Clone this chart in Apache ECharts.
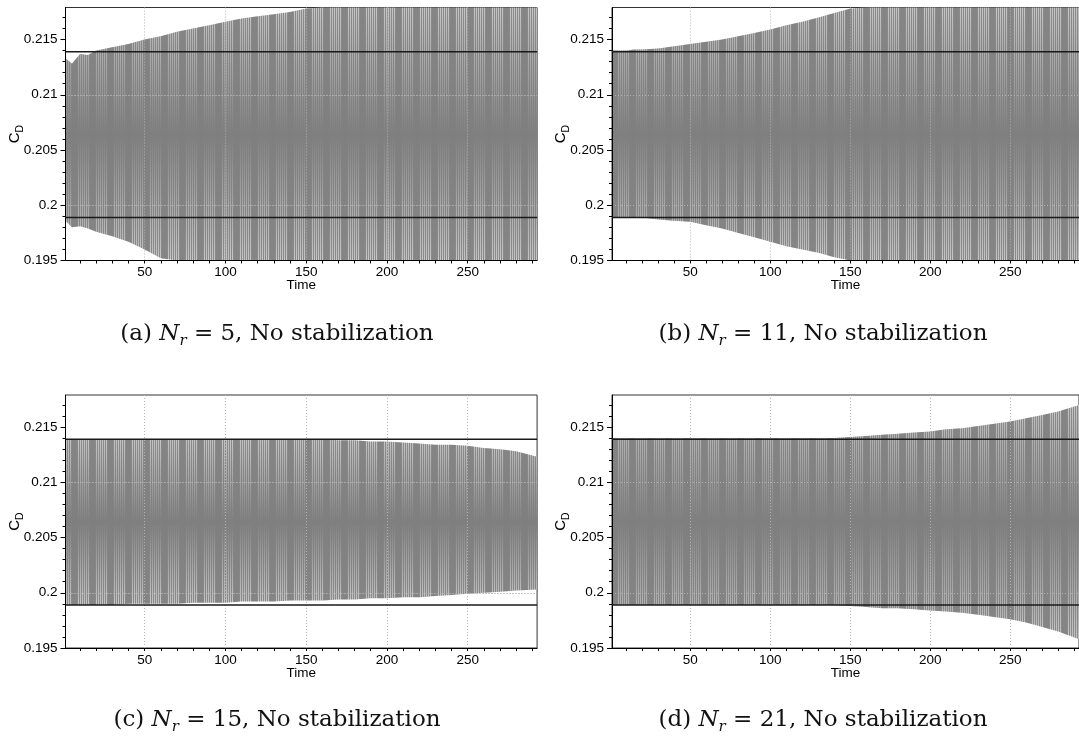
<!DOCTYPE html>
<html><head><meta charset="utf-8">
<script src="https://cdn.jsdelivr.net/npm/echarts@6/dist/echarts.min.js"></script>
<style>html,body{margin:0;padding:0;background:#fff;}#c{width:1079px;height:739px;}</style>
</head><body><div id="c"></div>
<script>
// ---------------- data ----------------
const times  = [1,5,10,15,20,30,40,50,60,70,80,90,100,110,120,130,140,150,160,170,180,190,200,210,220,230,240,250,260,270,280,293];
// envelopes of the oscillating C_D signal (values beyond the axis range are clipped)
const upperA = [0.2133,0.2128,0.2137,0.2136,0.2140,0.2143,0.2146,0.2150,0.2153,0.2157,0.2160,0.2163,0.2166,0.2169,0.2171,0.2173,0.2175,0.2178,0.2181,0.2183,0.2185,0.2187,0.2189,0.2191,0.2193,0.2195,0.2197,0.2199,0.2201,0.2203,0.2205,0.2207];
const lowerA = [0.1986,0.1980,0.1981,0.1979,0.1976,0.1972,0.1967,0.1960,0.1952,0.1946,0.1941,0.1937,0.1933,0.1929,0.1926,0.1923,0.1920,0.1917,0.1915,0.1913,0.1911,0.1909,0.1907,0.1905,0.1903,0.1901,0.1899,0.1897,0.1895,0.1893,0.1891,0.1889];
const upperB = [0.2140,0.2140,0.2140,0.2141,0.2141,0.2142,0.2144,0.2146,0.2148,0.2150,0.2153,0.2156,0.2159,0.2163,0.2166,0.2170,0.2174,0.2178,0.2182,0.2186,0.2190,0.2194,0.2198,0.2202,0.2206,0.2210,0.2214,0.2218,0.2222,0.2226,0.2230,0.2234];
const lowerB = [0.1989,0.1989,0.1989,0.1989,0.1989,0.1987,0.1986,0.1985,0.1982,0.1979,0.1975,0.1971,0.1967,0.1963,0.1960,0.1957,0.1953,0.1949,0.1945,0.1941,0.1937,0.1933,0.1929,0.1925,0.1921,0.1917,0.1913,0.1909,0.1905,0.1901,0.1897,0.1893];
const upperC = [0.2139,0.2139,0.2139,0.2139,0.2139,0.2139,0.2139,0.2139,0.2139,0.2139,0.2139,0.2139,0.2139,0.2139,0.2139,0.2139,0.2139,0.2139,0.2139,0.2138,0.2138,0.2137,0.2137,0.2136,0.2135,0.2134,0.2134,0.2133,0.2131,0.2130,0.2128,0.2123];
const lowerC = [0.1989,0.1989,0.1989,0.1989,0.1989,0.1989,0.1990,0.1990,0.1990,0.1990,0.1991,0.1991,0.1991,0.1992,0.1992,0.1992,0.1993,0.1993,0.1993,0.1994,0.1994,0.1995,0.1995,0.1996,0.1996,0.1997,0.1998,0.1999,0.2000,0.2001,0.2002,0.2003];
const upperD = [0.2140,0.2140,0.2140,0.2140,0.2140,0.2140,0.2140,0.2140,0.2140,0.2140,0.2140,0.2140,0.2140,0.2140,0.2140,0.2140,0.2140,0.2141,0.2142,0.2143,0.2144,0.2145,0.2146,0.2148,0.2149,0.2151,0.2153,0.2155,0.2158,0.2161,0.2164,0.2170];
const lowerD = [0.1989,0.1989,0.1989,0.1989,0.1989,0.1989,0.1989,0.1989,0.1989,0.1989,0.1989,0.1989,0.1989,0.1989,0.1989,0.1989,0.1989,0.1988,0.1987,0.1986,0.1986,0.1985,0.1984,0.1983,0.1982,0.1980,0.1978,0.1976,0.1973,0.1969,0.1965,0.1958];
const refLines = [0.2139, 0.1989];
const xTickValues  = [10,20,30,40,50,60,70,80,90,100,110,120,130,140,150,160,170,180,190,200,210,220,230,240,250,260,270,280,290];
const xLabelValues = [50,100,150,200,250];
const yLabelValues = [0.195,0.2,0.205,0.21,0.215];
const yMinorValues = [0.196,0.197,0.198,0.199,0.201,0.202,0.203,0.204,0.206,0.207,0.208,0.209,0.211,0.212,0.213,0.214,0.216,0.217];
const gridXValues = [50,100,150,200,250];
const gridYValues = [0.2,0.205,0.21,0.215];
const captions = [
  '{n|(a) }{i|N}{s|r}{n| = 5, No stabilization}',
  '{n|(b) }{i|N}{s|r}{n| = 11, No stabilization}',
  '{n|(c) }{i|N}{s|r}{n| = 15, No stabilization}',
  '{n|(d) }{i|N}{s|r}{n| = 21, No stabilization}'
];
const X_MIN = 1, X_MAX = 293, Y_MIN = 0.195, Y_MAX = 0.2179;

// ---------------- styling / layout ----------------
const sans = 'Liberation Sans';
const panels = [
  {left: 65.5, top: 7.5, up: upperA, lo: lowerA, capX: 277, capY: 334},
  {left: 612,  top: 7.5, up: upperB, lo: lowerB, capX: 823, capY: 334},
  {left: 65.5, top: 395, up: upperC, lo: lowerC, capX: 277, capY: 720},
  {left: 612,  top: 395, up: upperD, lo: lowerD, capX: 823, capY: 720}
];

// striped texture imitating the dense vertical oscillation strokes
const pc = document.createElement('canvas');
pc.width = 18; pc.height = 4;
const pctx = pc.getContext('2d');
for (let i = 0; i < 18; i++) {
  let col;
  if (i < 5) col = '#858585';
  else col = (i % 2 === 0) ? '#c6c6c6' : '#8a8a8a';
  pctx.fillStyle = col; pctx.fillRect(i, 0, 1, 4);
}
const stripe = {image: pc, repeat: 'repeat'};

const chart = echarts.init(document.getElementById('c'), null, {renderer: 'canvas'});
const grid = [], xAxis = [], yAxis = [], series = [], graphic = [];

panels.forEach((p, k) => {
  grid.push({left: p.left, top: p.top, width: 471.6, height: 253, show: true,
    borderColor: '#333', borderWidth: 1, backgroundColor: 'transparent'});
  xAxis.push({gridIndex: k, type: 'value', min: X_MIN, max: X_MAX, z: 6, position: 'bottom',
    axisLine: {show: true, onZero: false, lineStyle: {color: '#000', width: 1}},
    axisTick: {show: true, inside: false, length: 3, customValues: xTickValues, lineStyle: {color: '#000'}},
    axisLabel: {customValues: xLabelValues, margin: 5, fontSize: 13.5, color: '#000', fontFamily: sans},
    splitLine: {show: false},
    name: 'Time', nameLocation: 'middle', nameGap: 18, nameMoveOverlap: false,
    nameTextStyle: {fontSize: 13.5, color: '#000', fontFamily: sans}
  });
  yAxis.push({gridIndex: k, type: 'value', min: Y_MIN, max: Y_MAX, z: 6, position: 'left',
    axisLine: {show: true, onZero: false, lineStyle: {color: '#000', width: 1}},
    axisTick: {show: true, inside: false, length: 5, customValues: yLabelValues, lineStyle: {color: '#000'}},
    axisLabel: {customValues: yLabelValues, margin: 8, fontSize: 13.5, color: '#000', fontFamily: sans},
    splitLine: {show: false},
    name: '{c|C}{d|D}', nameLocation: 'middle', nameRotate: 90, nameGap: 40, nameMoveOverlap: false,
    nameTextStyle: {color: '#000', fontFamily: sans, rich: {
      c: {fontSize: 15, lineHeight: 22, verticalAlign: 'middle', fontFamily: sans, color: '#000'},
      d: {fontSize: 10.5, lineHeight: 10, verticalAlign: 'bottom', fontFamily: sans, color: '#000'}
    }}
  });
  yAxis.push({gridIndex: k, type: 'value', min: Y_MIN, max: Y_MAX, z: 6, position: 'left', offset: 0,
    axisLine: {show: false, onZero: false},
    axisTick: {show: true, inside: false, length: 3, customValues: yMinorValues, lineStyle: {color: '#000'}},
    axisLabel: {show: false}, splitLine: {show: false}
  });
  const up = p.up, lo = p.lo;
  series.push({
    type: 'custom', xAxisIndex: k, yAxisIndex: 2 * k, z: 2, silent: true,
    data: [[X_MIN, Y_MIN]],
    renderItem: function (params, api) {
      const pts = [];
      for (let i = 0; i < times.length; i++) pts.push(api.coord([times[i], Math.min(up[i], Y_MAX)]));
      for (let i = times.length - 1; i >= 0; i--) pts.push(api.coord([times[i], Math.max(lo[i], Y_MIN)]));
      return {type: 'group', children: [
        {type: 'polygon', shape: {points: pts}, style: {fill: stripe}},
        {type: 'polygon', shape: {points: pts}, style: {fill: new echarts.graphic.LinearGradient(0, 0, 0, 1, [
          {offset: 0, color: 'rgba(128,128,128,0)'},
          {offset: 0.22, color: 'rgba(128,128,128,0.45)'},
          {offset: 0.5, color: 'rgba(127,127,127,1)'},
          {offset: 0.78, color: 'rgba(128,128,128,0.45)'},
          {offset: 1, color: 'rgba(128,128,128,0)'}
        ])}}
      ]};
    },
    markLine: {
      silent: true, symbol: 'none', z: 4, animation: false,
      label: {show: false},
      lineStyle: {color: '#b4b4b4', width: 1, type: [1, 2]},
      data: gridXValues.map(v => ({xAxis: v})).concat(gridYValues.map(v => ({yAxis: v})))
    }
  });
  refLines.forEach(v => {
    series.push({type: 'line', xAxisIndex: k, yAxisIndex: 2 * k, z: 7, silent: true,
      symbol: 'none', animation: false,
      lineStyle: {color: '#1a1a1a', width: 1.5},
      data: [[X_MIN, v], [X_MAX, v]]});
  });
  graphic.push({type: 'text', x: p.capX, y: p.capY, silent: true,
    style: {text: captions[k], align: 'center', verticalAlign: 'middle', fill: '#111',
      font: '23px "DejaVu Serif"',
      rich: {
        n: {fontSize: 23, fontFamily: 'DejaVu Serif', lineHeight: 30, verticalAlign: 'middle', fill: '#111'},
        i: {fontSize: 23, fontFamily: 'DejaVu Serif', fontStyle: 'italic', lineHeight: 30, verticalAlign: 'middle', fill: '#111'},
        s: {fontSize: 15, fontFamily: 'DejaVu Serif', fontStyle: 'italic', lineHeight: 15, verticalAlign: 'bottom', fill: '#111'}
      }}
  });
});

chart.setOption({animation: false, backgroundColor: '#fff', grid, xAxis, yAxis, series, graphic});
</script>
</body></html>
